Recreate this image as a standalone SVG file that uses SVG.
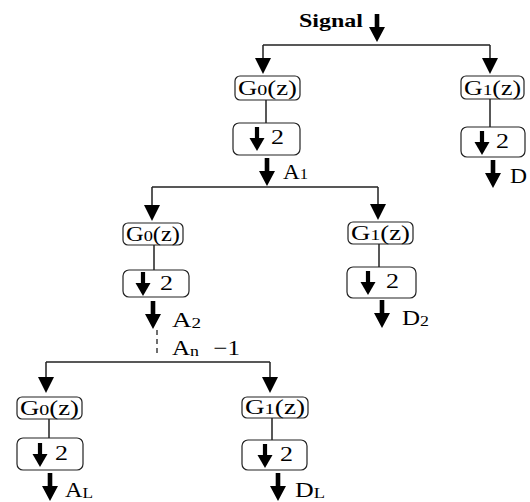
<svg xmlns="http://www.w3.org/2000/svg" xmlns:xlink="http://www.w3.org/1999/xlink" width="530" height="502" viewBox="0 0 530 502">
<style>
.box{fill:#fff;stroke:#222;stroke-width:1.2}
.ln{fill:none;stroke:#222;stroke-width:1.5}
.dash{fill:none;stroke:#222;stroke-width:1.3;stroke-dasharray:5,4}
.t{font-family:"Liberation Serif","Times New Roman",serif;font-size:20px;fill:#000}
.lab{font-size:21px}
.sig{font-weight:bold;font-size:19px}
.sub{font-size:15px}
</style>
<defs>
<g id="thick"><rect x="-2.3" y="0" width="4.6" height="15"/><polygon points="-8,13 8,13 0,28"/></g>
<g id="inner"><rect x="-2.1" y="0" width="4.2" height="13"/><polygon points="-7.5,11 7.5,11 0,24"/></g>
<polygon id="head" points="-8,0 8,0 0,16"/>
</defs>

<g id="connectors">
<use xlink:href="#thick" x="377" y="14"/>
<path class="ln" d="M263,45 H490 M263,45 V58 M490,45 V58"/>
<use xlink:href="#head" x="263" y="58"/>
<use xlink:href="#head" x="490" y="58"/>
<path class="ln" d="M266,100 V123 M490,99 V127"/>
<use xlink:href="#thick" x="267" y="158"/>
<use xlink:href="#thick" x="493" y="160"/>
<path class="ln" d="M152,187 H378 M152,187 V205 M378,187 V204"/>
<use xlink:href="#head" x="152" y="205"/>
<use xlink:href="#head" x="378" y="204"/>
<path class="ln" d="M154,245 V270 M379,244 V267"/>
<use xlink:href="#thick" x="153" y="301"/>
<use xlink:href="#thick" x="382" y="300"/>
<path class="dash" d="M157,330 V357"/>
<path class="ln" d="M46,362 H270 M46,362 V377 M270,362 V377"/>
<use xlink:href="#head" x="46" y="377"/>
<use xlink:href="#head" x="270" y="377"/>
<path class="ln" d="M49,419 V438 M272,418 V440"/>
<use xlink:href="#thick" x="50" y="473"/>
<use xlink:href="#thick" x="278" y="473"/>
</g>

<text class="t sig" x="299" y="27" textLength="64" lengthAdjust="spacingAndGlyphs">Signal</text>

<g id="n1_g0">
<rect class="box" x="235" y="76" width="65" height="24" rx="5"/>
<text class="t" x="238" y="95" textLength="59" lengthAdjust="spacingAndGlyphs">G<tspan class="sub">0</tspan>(z)</text>
</g>
<g id="n1_d0">
<rect class="box" x="233" y="123" width="67" height="32" rx="6"/>
<use xlink:href="#inner" x="257" y="127"/>
<text class="t" x="271" y="144" textLength="13" lengthAdjust="spacingAndGlyphs">2</text>
</g>
<text class="t lab" x="283" y="179" textLength="25" lengthAdjust="spacingAndGlyphs">A<tspan class="sub">1</tspan></text>

<g id="n1_g1">
<rect class="box" x="461" y="76" width="63" height="23" rx="5"/>
<text class="t" x="464" y="95" textLength="57" lengthAdjust="spacingAndGlyphs">G<tspan class="sub">1</tspan>(z)</text>
</g>
<g id="n1_d1">
<rect class="box" x="461" y="127" width="64" height="30" rx="6"/>
<use xlink:href="#inner" x="482" y="131"/>
<text class="t" x="496" y="148" textLength="13" lengthAdjust="spacingAndGlyphs">2</text>
</g>
<text class="t lab" x="510" y="183" textLength="17" lengthAdjust="spacingAndGlyphs">D</text>

<g id="n2_g0">
<rect class="box" x="123" y="223" width="60" height="22" rx="5"/>
<text class="t" x="126" y="241" textLength="54" lengthAdjust="spacingAndGlyphs">G<tspan class="sub">0</tspan>(z)</text>
</g>
<g id="n2_d0">
<rect class="box" x="123" y="270" width="66" height="27" rx="6"/>
<use xlink:href="#inner" x="143" y="272"/>
<text class="t" x="160" y="290" textLength="13" lengthAdjust="spacingAndGlyphs">2</text>
</g>
<text class="t lab" x="172" y="327" textLength="29" lengthAdjust="spacingAndGlyphs">A<tspan class="sub" dy="1">2</tspan></text>

<g id="n2_g1">
<rect class="box" x="348" y="222" width="65" height="22" rx="5"/>
<text class="t" x="351" y="240" textLength="59" lengthAdjust="spacingAndGlyphs">G<tspan class="sub">1</tspan>(z)</text>
</g>
<g id="n2_d1">
<rect class="box" x="347" y="267" width="69" height="31" rx="6"/>
<use xlink:href="#inner" x="368" y="271"/>
<text class="t" x="386" y="288" textLength="13" lengthAdjust="spacingAndGlyphs">2</text>
</g>
<text class="t lab" x="402" y="325" textLength="27" lengthAdjust="spacingAndGlyphs">D<tspan class="sub" dy="1">2</tspan></text>

<text class="t lab" x="172" y="355" textLength="68" lengthAdjust="spacingAndGlyphs">A<tspan class="sub" dy="1">n</tspan><tspan dy="-1" dx="12">−1</tspan></text>

<g id="n3_g0">
<rect class="box" x="17" y="397" width="65" height="22" rx="5"/>
<text class="t" x="20" y="415" textLength="59" lengthAdjust="spacingAndGlyphs">G<tspan class="sub">0</tspan>(z)</text>
</g>
<g id="n3_d0">
<rect class="box" x="17" y="438" width="66" height="32" rx="6"/>
<use xlink:href="#inner" x="40" y="443"/>
<text class="t" x="55" y="460" textLength="13" lengthAdjust="spacingAndGlyphs">2</text>
</g>
<text class="t lab" x="65" y="497" textLength="28" lengthAdjust="spacingAndGlyphs">A<tspan class="sub" dy="1">L</tspan></text>

<g id="n3_g1">
<rect class="box" x="242" y="397" width="66" height="21" rx="5"/>
<text class="t" x="245" y="414" textLength="60" lengthAdjust="spacingAndGlyphs">G<tspan class="sub">1</tspan>(z)</text>
</g>
<g id="n3_d1">
<rect class="box" x="242" y="440" width="65" height="30" rx="6"/>
<use xlink:href="#inner" x="265" y="444"/>
<text class="t" x="280" y="461" textLength="13" lengthAdjust="spacingAndGlyphs">2</text>
</g>
<text class="t lab" x="295" y="497" textLength="30" lengthAdjust="spacingAndGlyphs">D<tspan class="sub" dy="1">L</tspan></text>
</svg>
